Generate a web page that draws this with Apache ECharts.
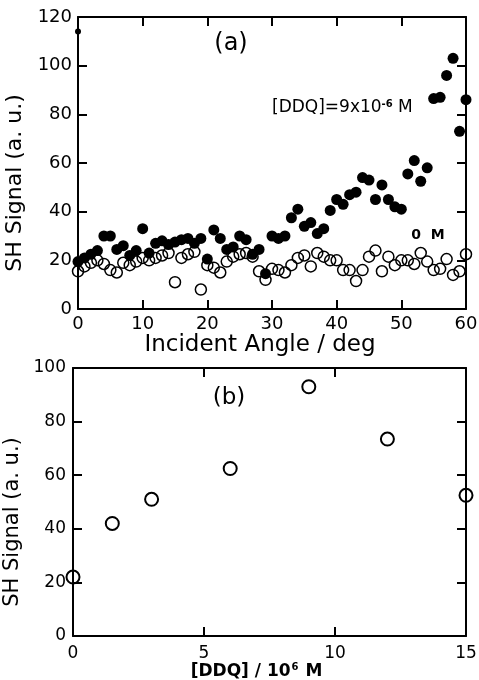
<!DOCTYPE html>
<html>
<head>
<meta charset="utf-8">
<script src="https://cdn.jsdelivr.net/npm/echarts@6/dist/echarts.min.js"></script>
<style>
  html, body { margin: 0; padding: 0; background: #fff; }
  #chart { width: 479px; height: 680px; }
</style>
</head>
<body>
<div id="chart"></div>
<script>
// panel (a): SH signal vs incident angle
const angles = [0, 1, 2, 3, 4, 5, 6, 7, 8, 9, 10, 11, 12, 13, 14, 15, 16, 17, 18, 19,
  20, 21, 22, 23, 24, 25, 26, 27, 28, 29, 30, 31, 32, 33, 34, 35, 36, 37, 38, 39,
  40, 41, 42, 43, 44, 45, 46, 47, 48, 49, 50, 51, 52, 53, 54, 55, 56, 57, 58, 59, 60]
const ddqSignal = [19.5, 21, 22.5, 24, 30, 30, 24.5, 26, 22, 24,
  33, 23, 27, 28, 26.5, 27.5, 28.5, 29, 27, 29,
  20.5, 32.5, 29, 24.5, 25.5, 30, 28.5, 22.5, 24.5, 14.5,
  30, 29, 30, 37.5, 41, 34, 35.5, 31, 33, 40.5,
  45, 43, 47, 48, 54, 53, 45, 51, 45, 42,
  41, 55.5, 61, 52.5, 58, 86.5, 87, 96, 103, 73, 86]
const zeroSignal = [15.5, 17.5, 19, 20, 18.5, 16, 15, 19, 18, 19.5,
  21, 20, 21, 22, 23, 11, 21, 22.5, 23.5, 8,
  18, 17, 15, 19.5, 21.5, 22.5, 23, 21.5, 15.5, 12,
  16.5, 16, 15, 18, 21, 22, 17.5, 23, 21.5, 20,
  20, 16, 16, 11.5, 16, 21.5, 24, 15.5, 21.5, 18,
  20, 20, 18.5, 23, 19.5, 16, 16.5, 20.5, 14, 15.5, 22.5]
const strayDot = [[0, 114]]

// panel (b): SH signal vs DDQ concentration
const ddqConc = [0, 1.5, 3, 6, 9, 12, 15]
const concSignal = [22, 42, 51, 62.5, 93, 73.5, 52.5]

const FONT = 'DejaVu Sans'
const black = '#000'

const chart = echarts.init(document.getElementById('chart'), null, { renderer: 'canvas' })

function frameAxis(extra) {
  return Object.assign({
    type: 'value',
    axisLine: { show: true, onZero: false, lineStyle: { color: black, width: 2 } },
    axisTick: { show: true, inside: true, length: 9, lineStyle: { color: black, width: 2 } },
    splitLine: { show: false },
    axisLabel: { color: black, fontFamily: FONT, fontSize: 18, margin: 6 },
  }, extra)
}

const noLabel = { show: false }

chart.setOption({
  animation: false,
  backgroundColor: '#fff',
  grid: [
    { left: 78, right: 13, top: 17, height: 292, containLabel: false, outerBoundsMode: 'none' },
    { left: 73, right: 13, top: 368, height: 268, containLabel: false, outerBoundsMode: 'none' },
  ],
  xAxis: [
    frameAxis({
      gridIndex: 0, min: 0, max: 60, interval: 10, position: 'bottom',
      name: 'Incident Angle / deg', nameLocation: 'middle', nameGap: 22,
      nameTextStyle: { color: black, fontFamily: FONT, fontSize: 23, padding: [0, 24, 0, 0] },
    }),
    frameAxis({ gridIndex: 0, min: 0, max: 60, interval: 10, position: 'top', axisLabel: noLabel }),
    frameAxis({
      gridIndex: 1, min: 0, max: 15, interval: 5, position: 'bottom',
      axisLabel: { color: black, fontFamily: FONT, fontSize: 17, margin: 9 },
      name: '{n|[DDQ] / 10}{s|6}{n| M}', nameLocation: 'middle', nameGap: 14,
      nameTextStyle: {
        color: black, fontFamily: FONT, padding: [0, 26, 0, 0],
        rich: {
          n: { fontSize: 17, fontWeight: 'bold', fontFamily: FONT, color: black },
          s: { fontSize: 10, fontWeight: 'bold', fontFamily: FONT, color: black, verticalAlign: 'top', padding: [0, 1, 0, 1] },
        },
      },
    }),
    frameAxis({ gridIndex: 1, min: 0, max: 15, interval: 5, position: 'top', axisLabel: noLabel }),
  ],
  yAxis: [
    frameAxis({
      gridIndex: 0, min: 0, max: 120, interval: 20, position: 'left',
      name: 'SH Signal (a. u.)', nameLocation: 'middle', nameGap: 44,
      nameTextStyle: { color: black, fontFamily: FONT, fontSize: 22, padding: [0, 40, 0, 0] },
    }),
    frameAxis({ gridIndex: 0, min: 0, max: 120, interval: 20, position: 'right', axisLabel: noLabel }),
    frameAxis({
      gridIndex: 1, min: 0, max: 100, interval: 20, position: 'left',
      axisLabel: { color: black, fontFamily: FONT, fontSize: 17, margin: 7 },
      name: 'SH Signal (a. u.)', nameLocation: 'middle', nameGap: 41,
      nameTextStyle: { color: black, fontFamily: FONT, fontSize: 21, padding: [0, 40, 0, 0] },
    }),
    frameAxis({ gridIndex: 1, min: 0, max: 100, interval: 20, position: 'right', axisLabel: noLabel }),
  ],
  series: [
    {
      name: '0 M', type: 'scatter', xAxisIndex: 0, yAxisIndex: 0,
      data: angles.map((a, i) => [a, zeroSignal[i]]),
      symbol: 'circle', symbolSize: 11,
      itemStyle: { color: 'transparent', borderColor: black, borderWidth: 1.5, opacity: 1 },
    },
    {
      name: '9e-6 M', type: 'scatter', xAxisIndex: 0, yAxisIndex: 0,
      data: angles.map((a, i) => [a, ddqSignal[i]]),
      symbol: 'circle', symbolSize: 11,
      itemStyle: { color: black, opacity: 1 },
    },
    {
      type: 'scatter', xAxisIndex: 0, yAxisIndex: 0, data: strayDot,
      symbol: 'circle', symbolSize: 6, itemStyle: { color: black, opacity: 1 },
    },
    {
      name: 'conc', type: 'scatter', xAxisIndex: 2, yAxisIndex: 2,
      data: ddqConc.map((c, i) => [c, concSignal[i]]),
      symbol: 'circle', symbolSize: 13,
      itemStyle: { color: 'transparent', borderColor: black, borderWidth: 2, opacity: 1 },
    },
  ],
  graphic: [
    { type: 'text', x: 231, y: 44, style: { text: '(a)', fontFamily: FONT, fontSize: 24, fill: black, align: 'center', verticalAlign: 'middle' } },
    {
      type: 'text', x: 272, y: 108,
      style: {
        text: '{n|[DDQ]=9x10}{s|-6}{n| M}', fill: black, verticalAlign: 'middle',
        rich: {
          n: { fontFamily: FONT, fontSize: 17, fill: black },
          s: { fontFamily: FONT, fontSize: 10, fontWeight: 'bold', fill: black, verticalAlign: 'top' },
        },
      },
    },
    { type: 'text', x: 428, y: 235, style: { text: '0  M', fontFamily: FONT, fontSize: 14, fontWeight: 'bold', fill: black, align: 'center', verticalAlign: 'middle' } },
    { type: 'text', x: 229, y: 398, style: { text: '(b)', fontFamily: FONT, fontSize: 23, fill: black, align: 'center', verticalAlign: 'middle' } },
  ],
})
</script>
</body>
</html>
